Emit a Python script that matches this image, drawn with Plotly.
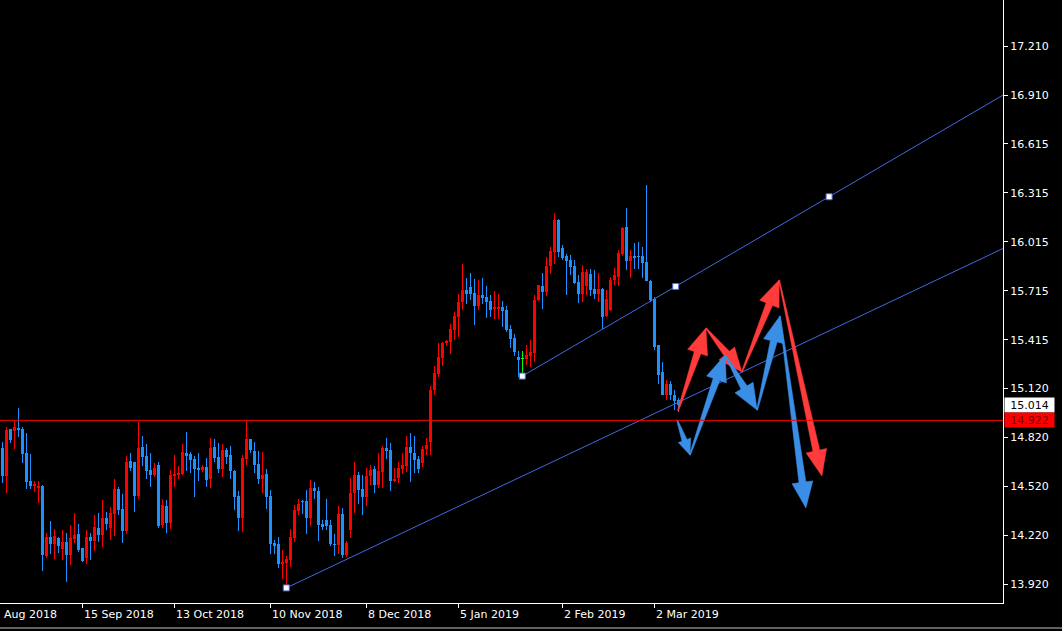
import math
import plotly.graph_objects as go

# ---------------- data (daily candles, bar index 0..169) ----------------
OPEN = [14.752, 14.581, 14.869, 14.857, 14.875, 14.869, 14.722, 14.551, 14.520, 14.508,
        14.520, 14.092, 14.208, 14.165, 14.202, 14.134, 14.177, 14.098, 14.195, 14.226,
        14.140, 14.079, 14.208, 14.183, 14.263, 14.220, 14.324, 14.263, 14.349, 14.502,
        14.379, 14.245, 14.673, 14.667, 14.459, 14.759, 14.704, 14.618, 14.587, 14.649,
        14.281, 14.398, 14.294, 14.581, 14.587, 14.594, 14.722, 14.716, 14.686, 14.630,
        14.618, 14.637, 14.563, 14.759, 14.698, 14.624, 14.740, 14.710, 14.612, 14.459,
        14.324, 14.686, 14.808, 14.734, 14.655, 14.563, 14.594, 14.459, 14.171, 14.165,
        14.043, 14.049, 14.067, 14.202, 14.367, 14.428, 14.428, 14.324, 14.508, 14.489,
        14.287, 14.312, 14.281, 14.165, 14.159, 14.349, 14.098, 14.251, 14.477, 14.587,
        14.502, 14.453, 14.581, 14.624, 14.526, 14.606, 14.753, 14.740, 14.551, 14.569,
        14.624, 14.643, 14.759, 14.722, 14.686, 14.661, 14.747, 14.789, 15.108, 15.206,
        15.304, 15.396, 15.402, 15.475, 15.555, 15.647, 15.720, 15.738, 15.702, 15.622,
        15.689, 15.677, 15.653, 15.604, 15.604, 15.616, 15.597, 15.481, 15.426, 15.310,
        15.298, 15.298, 15.316, 15.334, 15.659, 15.745, 15.708, 15.867, 15.953, 16.149,
        15.977, 15.928, 15.904, 15.867, 15.769, 15.696, 15.744, 15.818, 15.726, 15.696,
        15.726, 15.561, 15.597, 15.781, 15.800, 15.940, 16.106, 15.898, 15.928, 15.928,
        15.928, 15.891, 15.775, 15.665, 15.383, 15.218, 15.077, 15.145, 15.077, 15.047]

HIGH = [14.789, 14.881, 14.869, 14.918, 14.998, 14.881, 14.844, 14.716, 14.551, 14.551,
        14.526, 14.232, 14.306, 14.257, 14.208, 14.251, 14.232, 14.281, 14.355, 14.287,
        14.140, 14.251, 14.232, 14.342, 14.355, 14.434, 14.361, 14.391, 14.563, 14.514,
        14.471, 14.704, 14.722, 14.667, 14.912, 14.826, 14.777, 14.722, 14.661, 14.667,
        14.441, 14.434, 14.618, 14.710, 14.643, 14.777, 14.851, 14.728, 14.704, 14.722,
        14.649, 14.692, 14.814, 14.808, 14.783, 14.777, 14.753, 14.765, 14.618, 14.489,
        14.710, 14.918, 14.808, 14.789, 14.734, 14.728, 14.624, 14.496, 14.189, 14.208,
        14.128, 14.092, 14.257, 14.404, 14.441, 14.434, 14.496, 14.557, 14.545, 14.514,
        14.312, 14.441, 14.312, 14.226, 14.398, 14.385, 14.183, 14.569, 14.667, 14.606,
        14.587, 14.630, 14.649, 14.643, 14.722, 14.765, 14.814, 14.783, 14.630, 14.667,
        14.722, 14.826, 14.844, 14.826, 14.704, 14.765, 14.814, 15.132, 15.255, 15.396,
        15.402, 15.414, 15.512, 15.585, 15.696, 15.879, 15.794, 15.824, 15.787, 15.781,
        15.794, 15.745, 15.689, 15.714, 15.696, 15.653, 15.622, 15.506, 15.451, 15.347,
        15.347, 15.383, 15.414, 15.689, 15.751, 15.824, 15.922, 15.983, 16.191, 16.155,
        15.996, 15.940, 15.934, 15.904, 15.812, 15.873, 15.849, 15.849, 15.842, 15.824,
        15.732, 15.720, 15.800, 15.855, 15.965, 16.106, 16.222, 15.965, 16.008, 16.014,
        15.983, 16.363, 15.781, 15.677, 15.383, 15.279, 15.169, 15.163, 15.108, 15.059]

LOW = [14.538, 14.477, 14.783, 14.746, 14.820, 14.661, 14.502, 14.502, 14.484, 14.416,
       13.999, 14.079, 14.104, 14.073, 14.110, 14.067, 13.932, 14.036, 14.171, 14.116,
       14.055, 14.043, 14.067, 14.122, 14.177, 14.147, 14.251, 14.189, 14.214, 14.342,
       14.171, 14.226, 14.612, 14.361, 14.441, 14.643, 14.563, 14.514, 14.575, 14.263,
       14.263, 14.232, 14.257, 14.514, 14.563, 14.587, 14.612, 14.600, 14.453, 14.551,
       14.606, 14.514, 14.508, 14.667, 14.600, 14.575, 14.655, 14.563, 14.373, 14.245,
       14.238, 14.649, 14.722, 14.600, 14.532, 14.477, 14.379, 14.104, 14.104, 14.018,
       13.951, 13.890, 14.024, 14.177, 14.342, 14.349, 14.226, 14.275, 14.441, 14.183,
       14.251, 14.251, 14.153, 14.092, 14.104, 14.079, 14.085, 14.202, 14.355, 14.410,
       14.342, 14.398, 14.526, 14.477, 14.508, 14.508, 14.686, 14.489, 14.545, 14.538,
       14.594, 14.606, 14.545, 14.600, 14.600, 14.637, 14.710, 14.710, 15.077, 15.187,
       15.255, 15.377, 15.328, 15.414, 15.432, 15.597, 15.634, 15.659, 15.506, 15.597,
       15.634, 15.549, 15.555, 15.542, 15.542, 15.493, 15.463, 15.365, 15.316, 15.187,
       15.193, 15.261, 15.249, 15.279, 15.653, 15.604, 15.683, 15.818, 15.879, 15.922,
       15.904, 15.689, 15.812, 15.757, 15.640, 15.647, 15.689, 15.683, 15.665, 15.647,
       15.481, 15.555, 15.591, 15.751, 15.745, 15.928, 15.842, 15.793, 15.849, 15.849,
       15.793, 15.775, 15.647, 15.353, 15.145, 15.077, 15.047, 15.047, 14.985, 14.973]

CLOSE = [14.581, 14.863, 14.802, 14.881, 14.863, 14.716, 14.545, 14.520, 14.532, 14.520,
         14.098, 14.208, 14.165, 14.214, 14.153, 14.177, 14.098, 14.202, 14.220, 14.128,
         14.061, 14.208, 14.183, 14.269, 14.220, 14.324, 14.287, 14.355, 14.502, 14.373,
         14.245, 14.667, 14.630, 14.459, 14.753, 14.697, 14.612, 14.587, 14.630, 14.275,
         14.404, 14.294, 14.587, 14.594, 14.600, 14.728, 14.704, 14.679, 14.624, 14.618,
         14.637, 14.557, 14.753, 14.692, 14.624, 14.740, 14.698, 14.612, 14.453, 14.324,
         14.692, 14.808, 14.740, 14.649, 14.563, 14.587, 14.453, 14.165, 14.153, 14.043,
         14.055, 14.073, 14.208, 14.373, 14.410, 14.422, 14.324, 14.508, 14.489, 14.281,
         14.269, 14.275, 14.165, 14.159, 14.349, 14.098, 14.171, 14.477, 14.587, 14.496,
         14.453, 14.581, 14.618, 14.526, 14.612, 14.753, 14.734, 14.551, 14.563, 14.630,
         14.649, 14.759, 14.722, 14.679, 14.624, 14.747, 14.771, 15.108, 15.212, 15.310,
         15.396, 15.408, 15.481, 15.561, 15.647, 15.720, 15.696, 15.696, 15.622, 15.689,
         15.671, 15.647, 15.597, 15.616, 15.616, 15.591, 15.475, 15.420, 15.340, 15.291,
         15.298, 15.322, 15.340, 15.659, 15.751, 15.708, 15.867, 15.959, 16.149, 15.953,
         15.916, 15.898, 15.861, 15.763, 15.696, 15.830, 15.830, 15.720, 15.696, 15.726,
         15.555, 15.665, 15.781, 15.812, 15.947, 16.100, 15.898, 15.928, 15.916, 15.922,
         15.885, 15.775, 15.659, 15.371, 15.200, 15.077, 15.145, 15.077, 15.040, 15.014]

BARS = list(range(len(OPEN)))

# first label is partly off the left edge in the original; its visible part is shown
EDGE_LABEL = "Aug 2018"
DATE_LABELS = ["15 Sep 2018", "13 Oct 2018", "10 Nov 2018",
               "8 Dec 2018", "5 Jan 2019", "2 Feb 2019", "2 Mar 2019"]
DATE_BARS = [20, 43, 67, 91, 114, 140, 163]

PRICE_TICKS = [13.920, 14.220, 14.520, 14.820, 15.120, 15.415,
               15.715, 16.015, 16.315, 16.615, 16.910, 17.210]

LAST_PRICE = 15.014
HLINE_PRICE = 14.922

# trend lines: anchor points (bar, price)
TREND_LOW = [(71, 13.896), (249.9, 15.971)]
TREND_HIGH = [(130, 15.193), (206.7, 16.291)]

# forecast paths (bar, price)
RED_PATH = [(168.9, 14.979), (175.9, 15.487), (184.9, 15.218), (194.2, 15.781), (204.9, 14.581)]
BLUE_PATH = [(168.7, 14.924), (171.9, 14.710), (180.7, 15.322), (188.7, 14.985),
             (194.4, 15.561), (200.9, 14.385)]

# ---------------- styling ----------------
UP = "#FF0000"
DOWN = "#1E90FF"
DOJI = "#00FF00"
TREND_COLOR = "#4169E1"
RED_ARROW = "#FF3B3B"
BLUE_ARROW = "#3A8EE6"
FONT = "DejaVu Sans"

W, H = 1062, 631
ML, MR, MT, MB = 0, 59, 0, 28
PW, PH = W - ML - MR, H - MT - MB
XMIN, XMAX = -0.575, 250.175
YMIN, YMAX = 13.8037, 17.4955
SX = PW / (XMAX - XMIN)
SY = PH / (YMAX - YMIN)

colors = []
for o, c in zip(OPEN, CLOSE):
    colors.append(UP if c > o else (DOWN if c < o else DOJI))

body_base = [min(o, c) for o, c in zip(OPEN, CLOSE)]
body_h = [max(abs(c - o), 0.9 / SY) for o, c in zip(OPEN, CLOSE)]
wick_h = [h - l for h, l in zip(HIGH, LOW)]

fig = go.Figure()
fig.add_trace(go.Bar(x=BARS, y=wick_h, base=LOW, width=1.0 / SX,
                     marker=dict(color=colors, line=dict(width=0)), hoverinfo="skip"))
fig.add_trace(go.Bar(x=BARS, y=body_h, base=body_base, width=3.0 / SX,
                     marker=dict(color=colors, line=dict(width=0)), hoverinfo="skip"))


def extend(line):
    (x0, y0), (x1, y1) = line
    k = (y1 - y0) / (x1 - x0)
    return [x0, XMAX], [y0, y0 + k * (XMAX - x0)]


for ln in (TREND_LOW, TREND_HIGH):
    xs, ys = extend(ln)
    fig.add_trace(go.Scatter(x=xs, y=ys, mode="lines",
                             line=dict(color=TREND_COLOR, width=1), hoverinfo="skip"))

# selection markers
(hx0, hy0), (hx1, hy1) = TREND_HIGH
mk_x = [TREND_LOW[0][0], hx0, (hx0 + hx1) / 2, hx1]
mk_y = [TREND_LOW[0][1], hy0, (hy0 + hy1) / 2, hy1]
fig.add_trace(go.Scatter(x=mk_x, y=mk_y, mode="markers",
                         marker=dict(symbol="square", size=6, color="white",
                                     line=dict(color=TREND_COLOR, width=1)),
                         hoverinfo="skip"))


def arrow_poly(p0, p1, head_len=26.0, head_w=21.0, w0=1.0, w1=7.0):
    x0, y0 = p0[0] * SX, p0[1] * SY
    x1, y1 = p1[0] * SX, p1[1] * SY
    dx, dy = x1 - x0, y1 - y0
    L = math.hypot(dx, dy)
    ux, uy = dx / L, dy / L
    nx, ny = -uy, ux
    hl = min(head_len, 0.42 * L)
    hw = min(head_w, hl * 0.85)
    w1 = min(w1, hw * 0.4)
    bx, by = x1 - ux * hl, y1 - uy * hl
    pts = [
        (x0 + nx * w0 / 2, y0 + ny * w0 / 2),
        (bx + nx * w1 / 2, by + ny * w1 / 2),
        (bx + nx * hw / 2, by + ny * hw / 2),
        (x1, y1),
        (bx - nx * hw / 2, by - ny * hw / 2),
        (bx - nx * w1 / 2, by - ny * w1 / 2),
        (x0 - nx * w0 / 2, y0 - ny * w0 / 2),
    ]
    xs = [p[0] / SX for p in pts] + [pts[0][0] / SX]
    ys = [p[1] / SY for p in pts] + [pts[0][1] / SY]
    return xs, ys


for path, col in ((RED_PATH, RED_ARROW), (BLUE_PATH, BLUE_ARROW)):
    for a, b in zip(path[:-1], path[1:]):
        xs, ys = arrow_poly(a, b)
        fig.add_trace(go.Scatter(x=xs, y=ys, mode="lines", fill="toself",
                                 fillcolor=col, line=dict(color=col, width=0.5),
                                 hoverinfo="skip"))

date_font = dict(family=FONT, size=11, color="white")
annotations = [dict(x=0, xref="paper", y=0, yref="paper", xanchor="left", yanchor="top",
                    yshift=-3, xshift=2, text=EDGE_LABEL, showarrow=False, font=date_font)]
for lab, b in zip(DATE_LABELS, DATE_BARS):
    annotations.append(dict(x=(b - XMIN) / (XMAX - XMIN), xref="paper", y=0, yref="paper",
                            xanchor="left", yanchor="top", yshift=-3, xshift=0,
                            text=lab, showarrow=False, font=date_font))

annotations.append(dict(x=1, xref="paper", y=LAST_PRICE, yref="y", xanchor="left",
                        yanchor="middle", xshift=1, text=f"{LAST_PRICE:.3f}", showarrow=False,
                        bgcolor="white", width=47, height=12, borderpad=1, align="center",
                        font=dict(family=FONT, size=11, color="black")))
annotations.append(dict(x=1, xref="paper", y=HLINE_PRICE, yref="y", xanchor="left",
                        yanchor="middle", xshift=1, text=f"{HLINE_PRICE:.3f}", showarrow=False,
                        bgcolor=UP, width=47, height=12, borderpad=1, align="center",
                        font=dict(family=FONT, size=11, color="#800000")))

shapes = [
    dict(type="line", xref="paper", x0=0, x1=1, yref="y", y0=HLINE_PRICE, y1=HLINE_PRICE,
         line=dict(color=UP, width=1)),
    dict(type="line", xref="paper", x0=0, x1=W / PW, yref="paper",
         y0=-(H - 3 - PH) / PH, y1=-(H - 3 - PH) / PH, line=dict(color="#c0c0c0", width=1)),
]

fig.update_layout(
    width=W, height=H, margin=dict(l=ML, r=MR, t=MT, b=MB, pad=0),
    paper_bgcolor="black", plot_bgcolor="black", showlegend=False,
    barmode="overlay", bargap=0,
    annotations=annotations, shapes=shapes,
    xaxis=dict(range=[XMIN, XMAX], showgrid=False, zeroline=False, showline=True,
               linecolor="white", linewidth=1, ticks="outside", ticklen=4, tickcolor="white",
               tickvals=DATE_BARS, showticklabels=False, fixedrange=True),
    yaxis=dict(range=[YMIN, YMAX], side="right", showgrid=False, zeroline=False, showline=True,
               linecolor="white", linewidth=1, ticks="outside", ticklen=4, tickcolor="white",
               tickvals=PRICE_TICKS, ticktext=[f"{v:.3f}" for v in PRICE_TICKS],
               tickfont=dict(family=FONT, size=11, color="white"), fixedrange=True),
)

fig.write_html(
    "out.html",
    config={"displayModeBar": False, "staticPlot": True},
    post_script="document.body.style.margin='0';document.body.style.background='black';"
                "document.body.style.overflow='hidden';",
)
